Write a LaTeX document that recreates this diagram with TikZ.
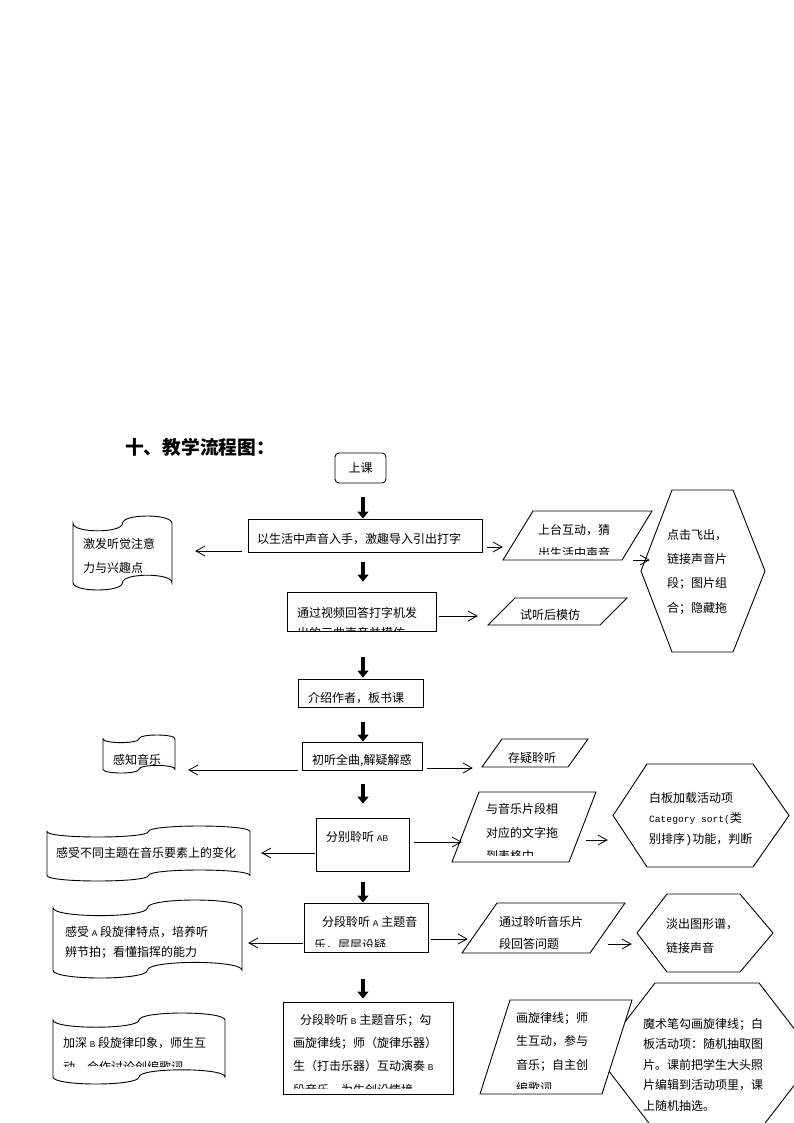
\documentclass[tikz,border=0pt]{standalone}
\usepackage{fontspec}
\setmainfont{Liberation Sans}
\newfontfamily\cjk{Noto Sans CJK SC}
\newfontfamily\latf{Liberation Sans}
\newfontfamily\monof{Liberation Mono}
\usetikzlibrary{arrows.meta,calc,fit}
\newcommand\LA[1]{{\latf\fontsize{8.5}{10}\selectfont #1}}
\newcommand\tapeshape[5]{%
 \pgfmathsetmacro\zTa{(#5-#3)/10}%
 \pgfmathsetmacro\zTm{(#2+#4)/2}%
 \pgfmathsetmacro\zTu{#3+\zTa}%
 \pgfmathsetmacro\zTuu{#3+\zTa+4/3*\zTa}%
 \pgfmathsetmacro\zTud{#3+\zTa-4/3*\zTa}%
 \pgfmathsetmacro\zTb{#5-\zTa}%
 \pgfmathsetmacro\zTbu{#5-\zTa-4/3*\zTa}%
 \pgfmathsetmacro\zTbd{#5-\zTa+4/3*\zTa}%
 \draw[shp] (#2,\zTu) .. controls (#2,\zTuu) and (\zTm,\zTuu) .. (\zTm,\zTu) .. controls (\zTm,\zTud) and (#4,\zTud) .. (#4,\zTu) -- (#4,\zTb) .. controls (#4,\zTbu) and (\zTm,\zTbu) .. (\zTm,\zTb) .. controls (\zTm,\zTbd) and (#2,\zTbd) .. (#2,\zTb) -- cycle;
 \node[fit={(#2,#3) (#4,#5)}, inner sep=0pt] (#1) {};}
\newcommand\paral[6]{%
 \draw[shp] (#2,#4) -- (#3,#4) -- ({#3-#6},#5) -- ({#2-#6},#5) -- cycle;
 \node[fit={({#2-#6},#4) (#3,#5)}, inner sep=0pt] (#1) {};}
\newcommand\hexa[7]{%
 \draw[shp] (#2,{(#6+#7)/2}) -- (#3,#6) -- (#4,#6) -- (#5,{(#6+#7)/2}) -- (#4,#7) -- (#3,#7) -- cycle;
 \node[fit={(#2,#6) (#5,#7)}, inner sep=0pt] (#1) {};}
\begin{document}
\begin{tikzpicture}[x=1pt,y=-1pt,
  shp/.style={draw, line width=0.9pt, fill=white},
  tx/.style={font=\cjk\fontsize{12}{#1}\selectfont, inner sep=0pt, anchor=base west, align=left},
  tx/.default=23,
  thk/.style={line width=4pt, -{Triangle[length=7pt,width=11pt]}},
  side/.style={line width=0.8pt, -{Straight Barb[length=9pt,width=10pt]}}]
\useasboundingbox (0,0) rectangle (794,1123);
\fill[white] (0,0) rectangle (794,1123);
\coordinate (ax) at (363,0);

% title
\node[font=\cjk\bfseries\fontsize{18.75}{20}\selectfont, inner sep=0pt, anchor=base west] (title) at (125,454) {十、教学流程图：};

% main column (multi-line text nodes are placed by the baseline of their last line)
\node[shp, rounded corners=4pt, minimum width=51pt, minimum height=30pt, inner sep=0pt, font=\cjk\fontsize{12}{14}\selectfont] (start) at (360.5,468) {上课};
\node[shp, fit={(248,519) (482,552)}, inner sep=0pt] (b1) {};
\node[tx] (tb1) at (257,543) {以生活中声音入手，激趣导入引出打字};
\node[shp, fit={(287,592) (436,631)}, inner sep=0pt] (b2) {};
\begin{scope}
\clip (b2.north west) rectangle ($(b2.south east)+(0,-0.5)$);
\node[tx=20] (tb2) at (297,637) {通过视频回答打字机发\\出的三曲声音并模仿};
\end{scope}
\node[shp, fit={(298,679) (423,707)}, inner sep=0pt] (b3) {};
\node[tx] (tb3) at (308,702) {介绍作者，板书课};
\node[shp, fit={(302,742) (422,770)}, inner sep=0pt] (b4) {};
\node[tx] (tb4) at (312,764) {初听全曲,解疑解惑};
\node[shp, fit={(316,818) (409,871)}, inner sep=0pt] (b5) {};
\node[tx] (tb5) at (326,841) {分别聆听 \LA{AB}};
\node[shp, fit={(304,903) (428,952)}, inner sep=0pt] (b6) {};
\begin{scope}
\clip (b6.north west) rectangle ($(b6.south east)+(0,-6)$);
\node[tx=23] (tb6) at (314,949) {\hspace*{8pt}分段聆听 \LA{A} 主题音\\乐，层层设疑};
\end{scope}
\node[shp, fit={(283,1002) (453,1094)}, inner sep=0pt] (b7) {};
\begin{scope}
\clip (b7.north west) rectangle ($(b7.south east)+(0,-5.5)$);
\node[tx=23.3] (tb7) at (293,1094) {\hspace*{7pt}分段聆听 \LA{B} 主题音乐；勾\\画旋律线；师（旋律乐器）\\生（打击乐器）互动演奏 \LA{B}\\段音乐，为生创设情境};
\end{scope}

% left documents
\tapeshape{d1}{73}{516}{172}{590}
\node[tx=24] (td1) at (83,572) {激发听觉注意\\力与兴趣点};
\tapeshape{d2}{103}{735}{175}{773}
\node[tx] (td2) at (113,764) {感知音乐};
\tapeshape{d3}{47}{826}{250}{881}
\node[tx] (td3) at (56,857) {感受不同主题在音乐要素上的变化};
\tapeshape{d4}{53}{900}{242}{978}
\node[tx=20] (td4) at (65,956) {感受 \LA{A} 段旋律特点，培养听\\辨节拍；看懂指挥的能力};
\tapeshape{d5}{53}{1013}{225}{1084}
\begin{scope}
\clip (d5.north west) rectangle ($(d5.south east)+(0,-18)$);
\node[tx=24] (td5) at (63,1071) {加深 \LA{B} 段旋律印象，师生互\\动，合作讨论创编歌词};
\end{scope}

% hexagons
\hexa{h1}{641}{672}{733}{765}{490}{652}
\node[tx=24.3] (th1) at (667,612) {点击飞出，\\链接声音片\\段；图片组\\合；隐藏拖};
\hexa{h2}{613}{647}{753}{789}{764}{867}
\node[tx=20.5] (th2) at (649,843) {白板加载活动项\\{\monof\fontsize{9.6}{10}\selectfont Category sort(}类\\别排序{\monof )}功能，判断};
\hexa{h3}{637}{667}{740}{773}{894}{972}
\node[tx=24] (th3) at (666,952) {淡出图形谱，\\链接声音};
\hexa{h4}{598}{655}{759}{816}{983}{1131}
\node[tx=20.5] (th4) at (643,1110) {魔术笔勾画旋律线；白\\板活动项：随机抽取图\\片。课前把学生大头照\\片编辑到活动项里，课\\上随机抽选。};

% parallelograms
\paral{p1}{533}{652}{511}{560}{30}
\begin{scope}
\clip (p1.north west) rectangle ($(p1.south east)+(0,-5.5)$);
\node[tx=23.5] (tp1) at (538,557.5) {上台互动，猜\\出生活中声音};
\end{scope}
\paral{p2}{515}{627}{598}{625}{27}
\node[tx] (tp2) at (520,619) {试听后模仿};
\paral{p3}{502}{588}{739}{767}{20}
\node[tx] (tp3) at (508,762) {存疑聆听};
\paral{p4}{479}{596}{792}{862}{27}
\begin{scope}
\clip (p4.north west) rectangle ($(p4.south east)+(0,-7)$);
\node[tx=23.5] (tp4) at (486,860.5) {与音乐片段相\\对应的文字拖\\到表格中};
\end{scope}
\paral{p5}{497}{625}{903}{953}{35}
\node[tx=22] (tp5) at (499,948) {通过聆听音乐片\\段回答问题};
\paral{p6}{510}{632}{1000}{1094}{30}
\begin{scope}
\clip (p6.north west) rectangle ($(p6.south east)+(0,-5.5)$);
\node[tx=23.5] (tp6) at (516,1092.5) {画旋律线；师\\生互动，参与\\音乐；自主创\\编歌词};
\end{scope}

% thick down arrows
\draw[thk] ($(start.south -| ax)+(0,14)$) -- (b1.north -| ax);
\draw[thk] ($(b1.south -| ax)+(0,10)$) -- ($(b2.north -| ax)+(0,-10)$);
\draw[thk] ($(b2.south -| ax)+(0,26)$) -- ($(b3.north -| ax)+(0,-1)$);
\draw[thk] ($(b3.south -| ax)+(0,15)$) -- (b4.north -| ax);
\draw[thk] ($(b4.south -| ax)+(0,14)$) -- ($(b5.north -| ax)+(0,-14)$);
\draw[thk] ($(b5.south -| ax)+(0,11)$) -- (b6.north -| ax);
\draw[thk] ($(b6.south -| ax)+(0,27)$) -- ($(b7.north -| ax)+(0,-3)$);

% side arrows
\draw[side] ($(b1.west)+(-6,15.5)$) coordinate (s1) -- ($(s1 -| d1.east)+(23,0)$);
\draw[side] ($(b1.east)+(5,11.5)$) coordinate (s2) -- (s2 -| p1.west);
\draw[side] ($(p1.east)+(-19,24.5)$) coordinate (s3) -- ($(s3 -| h1.west)+(9,0)$);
\draw[side] ($(b2.east)+(3,4.5)$) coordinate (s4) -- ($(s4 -| p2.west)+(-10,0)$);
\draw[side] ($(b4.west)+(-4,14)$) coordinate (s5) -- ($(s5 -| d2.east)+(13,0)$);
\draw[side] ($(b4.east)+(5,12)$) coordinate (s6) -- ($(s6 -| p3.west)+(-9,0)$);
\draw[side] ($(b5.west)+(-1,8.5)$) coordinate (s7) -- ($(s7 -| d3.east)+(11,0)$);
\draw[side] ($(b5.east)+(5,-2.5)$) coordinate (s8) -- ($(s8 -| p4.west)+(10,0)$);
\draw[side] ($(p4.east)+(-10,13)$) coordinate (s9) -- ($(s9 -| h2.west)+(-5,0)$);
\draw[side] ($(b6.west)+(-1,15.5)$) coordinate (s10) -- ($(s10 -| d4.east)+(6,0)$);
\draw[side] ($(b6.east)+(3,11.5)$) coordinate (s11) -- ($(s11 -| p5.west)+(6,0)$);
\draw[side] ($(p5.east)+(-17,16)$) coordinate (s12) -- ($(s12 -| h3.west)+(-5,0)$);
\end{tikzpicture}
\end{document}
